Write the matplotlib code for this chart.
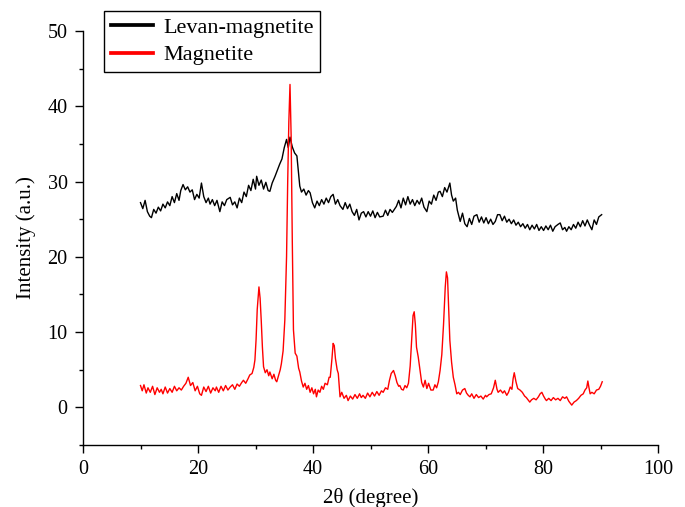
import matplotlib
matplotlib.use("Agg")
import matplotlib.pyplot as plt
from matplotlib.ticker import MultipleLocator

plt.rcParams['font.family'] = ['Liberation Serif', 'DejaVu Serif']

# Levan-magnetite (black)
lev_x = [10.0, 10.4, 10.8, 11.2, 11.6, 11.9, 12.3, 12.7, 13.1, 13.5, 13.9, 14.3, 14.7, 15.1, 15.5, 15.9,
         16.3, 16.7, 17.0, 17.4, 17.8, 18.2, 18.6, 19.0, 19.4, 19.8, 20.2, 20.6, 21.0, 21.4, 21.8, 22.1,
         22.5, 22.9, 23.3, 23.8, 24.2, 24.6, 25.0, 25.6, 26.0, 26.4, 26.8, 27.2, 27.6, 28.0, 28.4, 28.8,
         29.2, 29.6, 30.0, 30.2, 30.6, 31.0, 31.4, 31.8, 32.2, 32.5, 32.9, 33.4, 33.8, 34.2, 34.6, 35.0,
         35.4, 35.7, 36.0, 36.4, 36.8, 37.2, 37.5, 37.7, 38.0, 38.4, 38.8, 39.2, 39.5, 39.9, 40.3, 40.7,
         41.1, 41.5, 41.9, 42.3, 42.7, 43.1, 43.5, 43.9, 44.3, 44.7, 45.2, 45.6, 46.0, 46.4, 46.8, 47.2,
         47.6, 48.0, 48.4, 48.8, 49.2, 49.6, 50.0, 50.4, 50.8, 51.2, 51.6, 52.2, 52.6, 53.0, 53.4, 53.8,
         54.5, 54.9, 55.3, 55.7, 56.1, 56.5, 56.9, 57.3, 57.7, 58.1, 58.5, 58.9, 59.3, 59.8, 60.2, 60.6,
         61.0, 61.4, 61.8, 62.1, 62.5, 62.9, 63.3, 63.8, 64.1, 64.4, 64.8, 65.1, 65.6, 66.0, 66.4, 66.8,
         67.2, 67.6, 68.0, 68.5, 68.9, 69.3, 69.7, 70.1, 70.5, 70.9, 71.3, 71.7, 72.1, 72.5, 72.9, 73.3,
         73.7, 74.1, 74.5, 74.9, 75.3, 75.7, 76.1, 76.5, 76.9, 77.3, 77.7, 78.1, 78.5, 78.9, 79.3, 79.7,
         80.1, 80.5, 80.9, 81.3, 81.7, 82.1, 82.6, 83.0, 83.4, 83.8, 84.1, 84.5, 84.9, 85.3, 85.7, 86.1,
         86.5, 86.9, 87.3, 87.7, 88.1, 88.5, 88.9, 89.3, 89.7, 90.2]
lev_y = [27.2, 26.4, 27.5, 26.0, 25.4, 25.2, 26.3, 25.8, 26.6, 26.1, 27.0, 26.5, 27.3, 26.8, 28.0, 27.2,
         28.4, 27.5, 28.8, 29.6, 28.9, 29.3, 28.6, 28.9, 27.6, 28.3, 27.8, 29.8, 28.0, 27.2, 27.8, 27.0,
         27.6, 26.8, 27.5, 26.0, 27.3, 26.8, 27.6, 27.9, 26.9, 27.3, 26.5, 27.8, 27.2, 28.6, 28.0, 29.5,
         28.8, 30.3, 29.0, 30.7, 29.5, 30.2, 29.0, 29.9, 28.8, 28.7, 29.8, 30.7, 31.5, 32.3, 33.0, 34.5,
         35.6, 34.5, 35.9, 34.6, 33.8, 33.4, 31.0, 29.4, 28.6, 29.0, 28.2, 28.8, 28.5, 27.2, 26.5, 27.4,
         26.8, 27.6, 27.0, 27.8, 27.2, 28.0, 28.3, 27.0, 27.6, 26.8, 26.3, 27.2, 26.4, 27.0, 26.0, 25.5,
         26.3, 24.9, 25.8, 26.0, 25.3, 26.0, 25.4, 26.1, 25.2, 25.9, 25.3, 25.4, 26.2, 25.5, 26.3, 25.9,
         26.7, 27.5, 26.5, 27.8, 26.9, 28.0, 27.0, 27.6, 26.8, 27.5, 27.0, 27.8, 26.6, 26.0, 27.4, 27.0,
         28.2, 27.5, 28.6, 28.7, 28.0, 29.2, 28.6, 29.8, 28.2, 27.4, 27.8, 26.2, 24.7, 25.8, 24.4, 24.0,
         25.1, 24.3, 25.4, 25.6, 24.6, 25.3, 24.5, 25.2, 24.4, 25.0, 24.3, 24.7, 25.6, 25.6, 24.8, 25.4,
         24.6, 25.0, 24.4, 24.9, 24.2, 24.6, 24.0, 24.4, 23.8, 24.3, 23.6, 24.2, 23.7, 24.3, 23.5, 24.0,
         23.5, 24.1, 23.6, 24.2, 23.4, 24.0, 24.3, 24.5, 23.6, 23.9, 23.4, 24.0, 23.6, 24.3, 23.8, 24.6,
         24.0, 24.8, 24.1, 24.9, 24.2, 23.6, 24.9, 24.3, 25.3, 25.6]

# Magnetite (red)
mag_x = [10.0, 10.3, 10.6, 11.0, 11.3, 11.7, 12.1, 12.5, 12.9, 13.3, 13.6, 13.9, 14.3, 14.7, 15.1, 15.5,
         15.9, 16.3, 16.7, 17.1, 17.5, 17.9, 18.3, 18.7, 19.1, 19.5, 19.9, 20.3, 20.6, 21.0, 21.4, 21.8,
         22.2, 22.6, 23.0, 23.2, 23.6, 24.0, 24.4, 24.8, 25.2, 25.6, 26.0, 26.4, 26.8, 27.2, 27.6, 27.9,
         28.3, 28.7, 29.0, 29.4, 29.7, 29.9, 30.1, 30.3, 30.6, 30.8, 31.0, 31.2, 31.4, 31.7, 32.0, 32.3,
         32.5, 32.9, 33.2, 33.5, 33.7, 34.0, 34.3, 34.5, 34.8, 35.1, 35.4, 35.6, 35.8, 36.0, 36.2, 36.4,
         36.6, 36.9, 37.2, 37.5, 37.7, 38.0, 38.3, 38.6, 38.9, 39.2, 39.5, 39.8, 40.1, 40.4, 40.6, 40.9,
         41.2, 41.5, 41.8, 42.1, 42.5, 42.8, 43.0, 43.3, 43.5, 43.7, 43.9, 44.2, 44.4, 44.6, 44.7, 45.0,
         45.4, 45.8, 46.1, 46.5, 46.9, 47.3, 47.7, 48.1, 48.4, 48.7, 49.1, 49.5, 49.9, 50.3, 50.7, 51.1,
         51.5, 51.9, 52.2, 52.6, 53.0, 53.3, 53.6, 54.0, 54.3, 54.6, 54.9, 55.1, 55.4, 55.7, 56.0, 56.3,
         56.6, 56.9, 57.2, 57.4, 57.6, 57.8, 58.0, 58.3, 58.6, 58.9, 59.2, 59.5, 59.8, 60.1, 60.5, 60.9,
         61.2, 61.5, 61.8, 62.1, 62.4, 62.7, 63.0, 63.2, 63.4, 63.6, 63.8, 64.1, 64.4, 64.7, 65.0, 65.3,
         65.6, 66.0, 66.4, 66.7, 67.0, 67.3, 67.6, 68.0, 68.4, 68.8, 69.2, 69.6, 70.0, 70.2, 70.6, 71.0,
         71.4, 71.7, 72.0, 72.2, 72.6, 73.0, 73.3, 73.7, 74.0, 74.3, 74.6, 74.8, 75.0, 75.3, 75.6, 76.0,
         76.4, 76.8, 77.1, 77.4, 77.7, 78.0, 78.4, 78.8, 79.2, 79.5, 79.8, 80.1, 80.4, 80.6, 81.0, 81.4,
         81.8, 82.2, 82.6, 83.0, 83.4, 83.8, 84.1, 84.5, 85.0, 85.4, 85.8, 86.2, 86.6, 87.0, 87.3, 87.6,
         87.8, 88.0, 88.2, 88.5, 88.9, 89.3, 89.7, 90.0, 90.3]
mag_y = [2.9, 2.2, 3.0, 1.9, 2.6, 2.0, 2.8, 1.7, 2.6, 2.0, 2.4, 1.8, 2.7, 1.9, 2.5, 2.0,
         2.8, 2.2, 2.6, 2.3, 2.8, 3.2, 4.0, 2.9, 3.3, 2.2, 2.8, 1.8, 1.6, 2.7, 2.1, 2.8,
         1.9, 2.6, 2.2, 2.7, 2.0, 2.8, 2.2, 2.9, 2.3, 2.7, 3.0, 2.4, 3.1, 2.8, 3.3, 3.6,
         3.2, 3.8, 4.3, 4.5, 5.3, 6.3, 9.0, 13.0, 16.0, 14.5, 11.5, 8.0, 5.4, 4.6, 5.0, 4.2,
         4.7, 3.8, 4.4, 3.6, 3.4, 4.2, 5.0, 5.8, 7.5, 11.6, 20.0, 30.0, 38.0, 42.9, 36.0, 22.0,
         10.3, 7.2, 6.8, 5.2, 4.7, 3.5, 2.7, 3.2, 2.4, 2.9, 2.0, 2.6, 1.8, 2.4, 1.4, 2.3,
         2.0, 2.8, 2.4, 3.2, 3.0, 4.0, 4.0, 6.5, 8.5, 8.2, 6.5, 5.0, 4.5, 2.5, 1.4, 2.0,
         1.2, 1.6, 0.9, 1.5, 1.1, 1.7, 1.2, 1.8, 1.3, 1.6, 1.2, 1.9, 1.4, 2.0, 1.5, 2.1,
         1.6, 2.2, 2.0, 2.6, 2.4, 3.6, 4.5, 4.9, 4.2, 3.3, 2.8, 2.9, 2.4, 2.3, 2.9, 2.6,
         3.2, 5.5, 9.5, 12.2, 12.7, 11.0, 8.0, 6.7, 5.0, 3.3, 2.7, 3.6, 2.5, 3.2, 2.3, 2.3,
         3.0, 2.6, 3.4, 4.9, 7.0, 11.0, 16.0, 18.0, 17.2, 13.0, 8.9, 6.0, 4.0, 3.0, 1.8, 2.0,
         1.7, 2.3, 2.5, 1.9, 1.6, 1.4, 1.8, 1.2, 1.7, 1.3, 1.5, 1.1, 1.6, 1.4, 1.7, 1.8,
         2.6, 3.6, 2.4, 2.0, 2.3, 1.9, 2.2, 1.6, 2.0, 2.7, 2.4, 3.8, 4.6, 3.4, 2.5, 2.3,
         2.0, 1.5, 1.3, 1.0, 0.7, 1.0, 1.2, 1.0, 1.4, 1.8, 2.0, 1.5, 1.1, 0.9, 1.2, 0.9,
         1.3, 1.0, 1.2, 0.9, 1.4, 1.2, 1.4, 0.8, 0.3, 0.7, 0.9, 1.2, 1.6, 1.8, 2.3, 2.6,
         3.5, 2.6, 1.8, 2.0, 1.8, 2.3, 2.4, 2.8, 3.4]

series_labels = ["Levan-magnetite", "Magnetite"]
x_label = "2θ (degree)"
y_label = "Intensity (a.u.)"

fig = plt.figure(figsize=(6.85, 5.07), dpi=100)
ax = fig.add_axes([83/685, 1-445/507, (658-83)/685, (445-31)/507])

ax.plot(lev_x, lev_y, color='black', lw=1.0, label=series_labels[0])
ax.plot(mag_x, mag_y, color='red', lw=1.0, label=series_labels[1])

ax.set_xlim(0, 100)
ax.set_ylim(-5, 50)
ax.xaxis.set_major_locator(MultipleLocator(20))
ax.xaxis.set_minor_locator(MultipleLocator(10))
ax.yaxis.set_major_locator(MultipleLocator(10))
ax.yaxis.set_minor_locator(MultipleLocator(5))
for s in ['top', 'right']:
    ax.spines[s].set_visible(False)
for s in ['left', 'bottom']:
    ax.spines[s].set_linewidth(1.0)
ax.tick_params(which='major', direction='out', length=5.5, width=1.0, labelsize=14.5, pad=5.5)
ax.tick_params(which='minor', direction='out', length=3, width=1.0)

ax.set_xlabel(x_label, fontsize=15, labelpad=6)
ax.set_ylabel(y_label, fontsize=15, labelpad=8)

leg = fig.legend(loc='upper left', bbox_to_anchor=(104/685, 1-11/507), fontsize=16,
                 frameon=True, fancybox=False, edgecolor='black', framealpha=1,
                 handlelength=1.9, handletextpad=0.45, borderpad=0.3, labelspacing=0.3,
                 borderaxespad=0)
leg.get_frame().set_linewidth(1.0)
for h in leg.get_lines():
    h.set_linewidth(2.7)

fig.savefig("out.png", dpi=100)
